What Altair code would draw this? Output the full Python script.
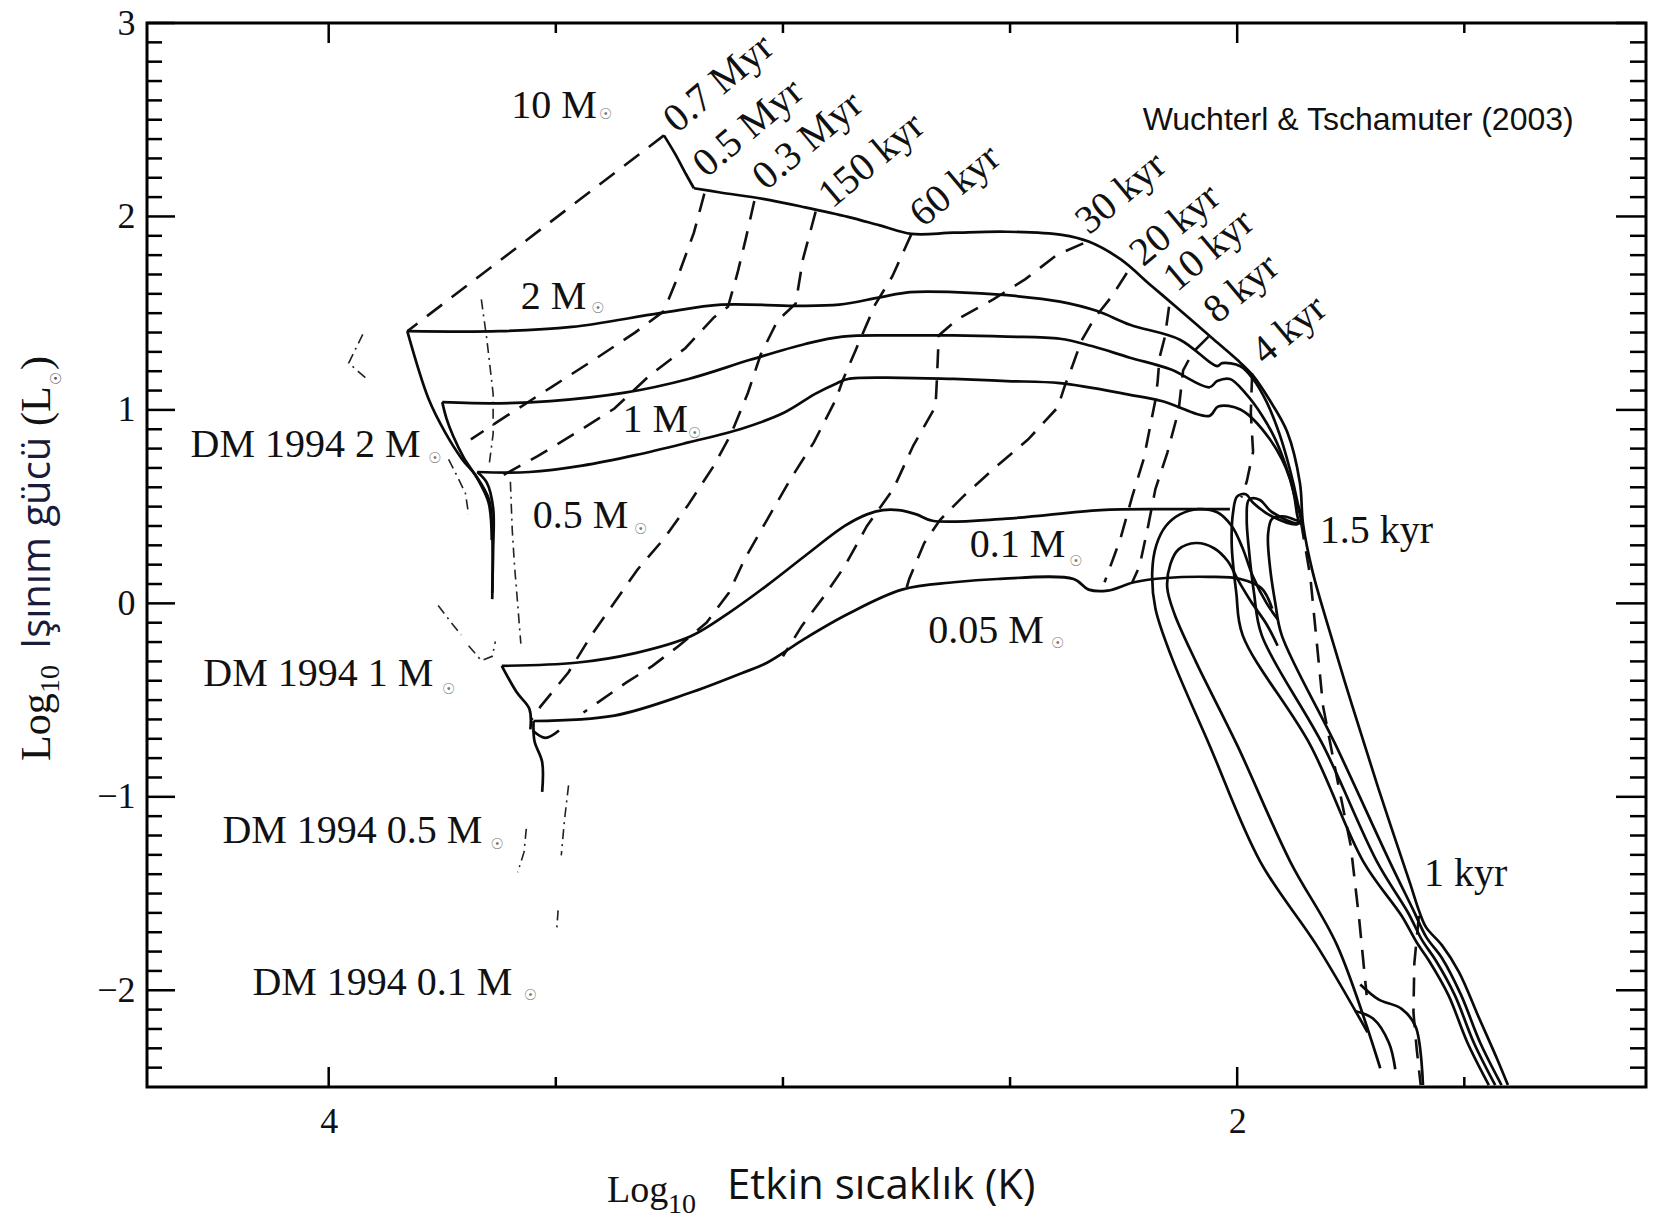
import altair as alt
import pandas as pd

W, H = 1499, 1064

# ---------------- data: (log10 Teff, log10 L) ----------------
TRACK_10M = [
    (1.404, -2.490), (1.428, -2.354), (1.467, -2.146), (1.512, -1.905), (1.549, -1.768), (1.584, -1.675),
    (1.600, -1.587), (1.619, -1.450), (1.689, -0.958), (1.748, -0.520), (1.801, -0.109), (1.834, 0.164),
    (1.855, 0.411), (1.862, 0.624), (1.890, 0.887), (1.930, 1.056), (1.965, 1.177), (2.000, 1.259),
    (2.051, 1.363), (2.129, 1.522), (2.189, 1.642), (2.257, 1.779), (2.327, 1.870), (2.386, 1.905),
    (2.507, 1.921), (2.624, 1.916), (2.717, 1.910), (2.787, 1.954), (2.857, 1.998), (2.951, 2.047),
    (3.044, 2.091), (3.138, 2.124), (3.196, 2.146)]
TIP_10M = [(3.196, 2.146), (3.213, 2.217), (3.238, 2.326), (3.262, 2.419)]

TRACK_2M = [
    (1.418, -2.490), (1.465, -2.271), (1.507, -2.025), (1.549, -1.834), (1.584, -1.724), (1.612, -1.587),
    (1.664, -1.336), (1.783, -0.733), (1.902, -0.164), (1.916, 0.000), (1.928, 0.192), (1.932, 0.356),
    (1.923, 0.438), (1.895, 0.449), (1.860, 0.427), (1.867, 0.520), (1.883, 0.684), (1.907, 0.876),
    (1.935, 1.040), (1.965, 1.160), (1.993, 1.226), (2.033, 1.242), (2.044, 1.226), (2.126, 1.363),
    (2.236, 1.440), (2.308, 1.511), (2.390, 1.560), (2.507, 1.593), (2.624, 1.609), (2.720, 1.609),
    (2.787, 1.582), (2.876, 1.544), (2.974, 1.538), (3.136, 1.544), (3.271, 1.500), (3.465, 1.429),
    (3.624, 1.407), (3.827, 1.407)]
DESC_2M = [(3.827, 1.407), (3.780, 1.056), (3.743, 0.881), (3.706, 0.744), (3.675, 0.657),
           (3.647, 0.536), (3.640, 0.367), (3.640, 0.022)]

TRACK_1M = [
    (1.432, -2.490), (1.479, -2.271), (1.521, -2.025), (1.563, -1.845), (1.593, -1.741), (1.624, -1.598),
    (1.692, -1.336), (1.811, -0.733), (1.946, -0.164), (1.963, 0.055), (1.974, 0.274), (1.979, 0.438),
    (1.974, 0.536), (1.951, 0.536), (1.923, 0.471), (1.862, 0.416), (1.874, 0.558), (1.893, 0.712),
    (1.916, 0.848), (1.946, 0.974), (1.981, 1.084), (2.016, 1.160), (2.044, 1.149), (2.061, 1.117),
    (2.147, 1.210), (2.236, 1.270), (2.320, 1.330), (2.390, 1.368), (2.507, 1.379), (2.624, 1.385),
    (2.741, 1.385), (2.869, 1.379), (2.951, 1.341), (3.072, 1.259), (3.208, 1.160), (3.348, 1.089),
    (3.512, 1.045), (3.624, 1.034), (3.750, 1.040)]
DESC_1M = [(3.750, 1.040), (3.741, 0.958), (3.726, 0.865), (3.703, 0.755), (3.673, 0.646),
           (3.648, 0.520), (3.641, 0.328)]

TRACK_05M = [
    (1.446, -2.490), (1.493, -2.271), (1.535, -2.025), (1.577, -1.850), (1.605, -1.752), (1.638, -1.615),
    (1.722, -1.336), (1.839, -0.733), (1.988, -0.164), (2.002, 0.055), (2.012, 0.301), (2.009, 0.471),
    (2.000, 0.553), (1.981, 0.564), (1.965, 0.520), (1.923, 0.449), (1.867, 0.411), (1.869, 0.471),
    (1.883, 0.640), (1.928, 0.848), (1.993, 1.002), (2.042, 1.018), (2.061, 0.969), (2.164, 1.045),
    (2.236, 1.078), (2.390, 1.138), (2.507, 1.149), (2.624, 1.160), (2.741, 1.166), (2.857, 1.160),
    (2.881, 1.138), (2.928, 1.084), (2.998, 0.985), (3.091, 0.903), (3.208, 0.832), (3.325, 0.766),
    (3.442, 0.712), (3.558, 0.679), (3.673, 0.679)]
DESC_05M = [(3.673, 0.679), (3.652, 0.624), (3.638, 0.493), (3.638, 0.274), (3.640, 0.055)]

TRACK_01M = [
    (2.016, 0.487), (2.157, 0.487), (2.301, 0.482), (2.507, 0.438), (2.671, 0.427), (2.706, 0.460),
    (2.745, 0.482), (2.780, 0.482), (2.815, 0.460), (2.864, 0.400), (2.951, 0.246), (3.035, 0.093),
    (3.119, -0.049), (3.203, -0.170), (3.325, -0.257), (3.456, -0.307), (3.619, -0.323)]
DESC_01M = [(3.619, -0.323), (3.586, -0.460), (3.558, -0.547), (3.556, -0.651)]

TRACK_005M = [
    (1.923, -0.027), (1.946, 0.077), (1.993, 0.126), (2.063, 0.137), (2.157, 0.131), (2.227, 0.109),
    (2.285, 0.066), (2.327, 0.071), (2.360, 0.126), (2.528, 0.126), (2.624, 0.109), (2.738, 0.071),
    (2.857, -0.055), (2.951, -0.181), (3.035, -0.307), (3.091, -0.361), (3.208, -0.465), (3.371, -0.580),
    (3.549, -0.608)]
DESC_005M = [(3.549, -0.608), (3.547, -0.712), (3.530, -0.821), (3.530, -0.974)]

LOOP_OUTER = [
    (1.713, -2.217), (1.825, -1.768), (1.949, -1.336), (2.061, -0.733), (2.145, -0.274), (2.180, -0.027),
    (2.187, 0.164), (2.178, 0.301), (2.157, 0.400), (2.126, 0.460), (2.086, 0.487), (2.044, 0.471),
    (2.012, 0.400), (1.988, 0.285), (1.965, 0.137), (1.935, 0.000), (1.911, -0.082)]

LOOP_INNER = [
    (1.685, -2.403), (1.780, -1.768), (1.883, -1.336), (2.000, -0.733), (2.091, -0.301), (2.138, -0.055),
    (2.154, 0.082), (2.147, 0.203), (2.129, 0.279), (2.091, 0.312), (2.051, 0.285), (2.021, 0.219),
    (1.998, 0.120), (1.970, 0.011), (1.935, -0.109), (1.911, -0.219)]

KNOT_A = [(1.729, -1.970), (1.689, -2.047), (1.638, -2.096), (1.607, -2.189), (1.591, -2.490)]
KNOT_B = [(1.741, -2.107), (1.701, -2.146), (1.666, -2.271), (1.652, -2.408)]
KNOT_C = [(3.551, -0.657), (3.523, -0.695), (3.493, -0.657)]

# isochrones (dashed)
ISO_07MYR = [(3.262, 2.419), (3.827, 1.407)]
ISO_05MYR = [(3.173, 2.118), (3.196, 1.916), (3.231, 1.691), (3.262, 1.511), (3.325, 1.401), (3.416, 1.259),
             (3.507, 1.122), (3.605, 0.974), (3.687, 0.848)]
ISO_03MYR = [(3.063, 2.080), (3.082, 1.883), (3.100, 1.708), (3.121, 1.533), (3.152, 1.478), (3.215, 1.319),
             (3.294, 1.177), (3.371, 1.007), (3.456, 0.881), (3.540, 0.761), (3.629, 0.646)]
ISO_150KYR = [(2.928, 2.025), (2.956, 1.779), (2.972, 1.549), (3.012, 1.461), (3.049, 1.286), (3.077, 1.089),
              (3.114, 0.876), (3.152, 0.712), (3.210, 0.504), (3.262, 0.334), (3.320, 0.175), (3.371, 0.005),
              (3.423, -0.170), (3.472, -0.356), (3.533, -0.531), (3.554, -0.602)]
ISO_60KYR = [(2.717, 1.910), (2.759, 1.691), (2.797, 1.544), (2.839, 1.314), (2.869, 1.149), (2.883, 1.056),
             (2.932, 0.832), (2.984, 0.640), (3.035, 0.432), (3.084, 0.230), (3.119, 0.055), (3.168, -0.099),
             (3.229, -0.219), (3.287, -0.323), (3.346, -0.411), (3.439, -0.564)]
ISO_30KYR = [(2.339, 1.861), (2.397, 1.801), (2.467, 1.675), (2.537, 1.571), (2.617, 1.467), (2.657, 1.385),
             (2.661, 1.160), (2.664, 1.018), (2.713, 0.816), (2.757, 0.591), (2.815, 0.400), (2.864, 0.192),
             (2.909, 0.038), (2.958, -0.115), (3.000, -0.274)]
ISO_20KYR = [(2.243, 1.708), (2.276, 1.587), (2.313, 1.478), (2.343, 1.357), (2.362, 1.232), (2.379, 1.128),
             (2.395, 1.013), (2.460, 0.848), (2.528, 0.712), (2.603, 0.553), (2.654, 0.432), (2.689, 0.312),
             (2.722, 0.126), (2.729, 0.071)]
ISO_10KYR = [(2.150, 1.533), (2.159, 1.379), (2.171, 1.270), (2.175, 1.149), (2.180, 1.051), (2.206, 0.744),
             (2.231, 0.553), (2.257, 0.334), (2.292, 0.109)]
ISO_8KYR = [(2.063, 1.379), (2.098, 1.297), (2.119, 1.204), (2.129, 0.996), (2.154, 0.777), (2.180, 0.591),
            (2.196, 0.400), (2.215, 0.192), (2.231, 0.109)]
ISO_4KYR = [(1.967, 1.188), (1.970, 0.985), (1.965, 0.783), (1.979, 0.629), (1.991, 0.547)]
ISO_15KYR = [(1.860, 0.427), (1.839, 0.137), (1.811, -0.531), (1.778, -0.930), (1.750, -1.253),
             (1.731, -1.642), (1.715, -2.025)]
ISO_1KYR = [(1.600, -1.615), (1.610, -1.861), (1.612, -2.113), (1.605, -2.299), (1.596, -2.490)]

# D'Antona & Mazzitelli 1994 tracks (dash-dot)
DM_2M_A = [(3.925, 1.390), (3.956, 1.242), (3.916, 1.160)]
DM_2M_B = [(3.736, 0.744), (3.717, 0.657), (3.699, 0.569), (3.692, 0.460)]
DM_1M_A = [(3.664, 1.571), (3.652, 1.368), (3.638, 1.084), (3.638, 0.876), (3.647, 0.712)]
DM_1M_B = [(3.759, -0.011), (3.727, -0.109), (3.708, -0.164)]
DM_1M_C = [(3.692, -0.219), (3.664, -0.296), (3.640, -0.274), (3.633, -0.197)]
DM_05M_A = [(3.600, 0.629), (3.596, 0.383), (3.591, 0.197), (3.586, 0.055), (3.577, -0.208)]
DM_05M_B = [(3.565, -1.166), (3.570, -1.286), (3.584, -1.390)]
DM_01M_A = [(3.472, -0.941), (3.481, -1.122), (3.488, -1.303)]
DM_01M_B = [(3.495, -1.587), (3.498, -1.686)]

# labels
MASS_TEXT = ["10 M", "2 M", "1 M", "0.5 M", "0.1 M", "0.05 M",
             "DM 1994 2 M", "DM 1994 1 M", "DM 1994 0.5 M", "DM 1994 0.1 M", "1.5 kyr", "1 kyr"]
MASS_T = [3.598, 3.577, 3.353, 3.551, 2.589, 2.680, 4.304, 4.276, 4.234, 4.168, 1.818, 1.589]
MASS_L = [2.572, 1.582, 0.947, 0.454, 0.301, -0.142, 0.821, -0.367, -1.177, -1.960, 0.372, -1.401]

SUN_T = [3.390, 3.407, 3.194, 3.313, 2.355, 2.395, 3.766, 3.736, 3.629, 3.556]
SUN_L = [2.529, 1.527, 0.881, 0.383, 0.219, -0.203, 0.750, -0.443, -1.242, -2.025]

AGE_TEXT = ["0.7 Myr", "0.5 Myr", "0.3 Myr", "150 kyr", "60 kyr", "30 kyr", "20 kyr", "10 kyr", "8 kyr", "4 kyr"]
AGE_T = [3.250, 3.185, 3.054, 2.909, 2.708, 2.343, 2.224, 2.150, 2.061, 1.956]
AGE_L = [2.474, 2.244, 2.178, 2.085, 1.987, 1.949, 1.784, 1.653, 1.489, 1.275]

SOURCE_TEXT = ["Wuchterl & Tschamuter (2003)"]
SOURCE_T = [2.208]
SOURCE_L = [2.501]

X_LABELS = [4, 2]
Y_LABELS = [-2, -1, 0, 1, 2, 3]
X_MAJOR = [4.0, 2.0]
X_MINOR = [3.5, 3.0, 2.5, 1.5]
Y_MAJOR = [-2, -1, 0, 1, 2, 3]
Y_MINOR = [-2.4, -2.3, -2.2, -2.1, -1.9, -1.8, -1.7, -1.6, -1.5, -1.4, -1.3, -1.2, -1.1,
           -0.9, -0.8, -0.7, -0.6, -0.5, -0.4, -0.3, -0.2, -0.1,
           0.1, 0.2, 0.3, 0.4, 0.5, 0.6, 0.7, 0.8, 0.9,
           1.1, 1.2, 1.3, 1.4, 1.5, 1.6, 1.7, 1.8, 1.9,
           2.1, 2.2, 2.3, 2.4, 2.5, 2.6, 2.7, 2.8, 2.9]

SOLID = [("10M", TRACK_10M), ("10Mtip", TIP_10M), ("2M", TRACK_2M), ("2Md", DESC_2M),
         ("1M", TRACK_1M), ("1Md", DESC_1M), ("05M", TRACK_05M), ("05Md", DESC_05M),
         ("01M", TRACK_01M), ("01Md", DESC_01M), ("005M", TRACK_005M), ("005Md", DESC_005M),
         ("loopA", LOOP_OUTER), ("loopB", LOOP_INNER),
         ("knA", KNOT_A), ("knB", KNOT_B), ("knC", KNOT_C)]
DASHED = [("i07", ISO_07MYR), ("i05", ISO_05MYR), ("i03", ISO_03MYR), ("i150", ISO_150KYR),
          ("i60", ISO_60KYR), ("i30", ISO_30KYR), ("i20", ISO_20KYR), ("i10", ISO_10KYR),
          ("i8", ISO_8KYR), ("i4", ISO_4KYR), ("i15", ISO_15KYR), ("i1", ISO_1KYR)]
DASHDOT = [("d2a", DM_2M_A), ("d2b", DM_2M_B), ("d1a", DM_1M_A), ("d1b", DM_1M_B), ("d1c", DM_1M_C),
           ("d05a", DM_05M_A), ("d05b", DM_05M_B), ("d01a", DM_01M_A), ("d01b", DM_01M_B)]


def frame(segments):
    rows = []
    for name, pts in segments:
        for i, (t, l) in enumerate(pts):
            rows.append({"seg": name, "i": i, "T": t, "L": l})
    return pd.DataFrame(rows)


xs = alt.Scale(domain=[1.1, 4.4], reverse=True, nice=False, zero=False)
ys = alt.Scale(domain=[-2.5, 3.0], nice=False, zero=False)

x_axis = alt.Axis(values=X_LABELS, title=None, grid=False, ticks=False, tickSize=0, domain=False,
                  labelFont="Liberation Serif", labelFontSize=36, labelColor="#111111",
                  labelPadding=17, labelFlush=False, labelOverlap=False, format="d")
y_axis = alt.Axis(values=Y_LABELS, title=None, grid=False, ticks=False, tickSize=0, domain=False,
                  labelFont="Liberation Serif", labelFontSize=36, labelColor="#111111",
                  labelPadding=12, labelFlush=False, labelOverlap=False, format="d")

X = alt.X("T:Q", scale=xs, axis=x_axis)
Y = alt.Y("L:Q", scale=ys, axis=y_axis)

layers = []

# inward ticks
ymaj = pd.DataFrame({"L": Y_MAJOR})
ymin = pd.DataFrame({"L": Y_MINOR})
xmaj = pd.DataFrame({"T": X_MAJOR})
xmin = pd.DataFrame({"T": X_MINOR})
tick = dict(color="black", strokeWidth=2.5)
layers += [
    alt.Chart(ymaj).mark_rule(**tick).encode(y=Y, x=alt.value(0), x2=alt.value(28)),
    alt.Chart(ymin).mark_rule(**tick).encode(y=Y, x=alt.value(0), x2=alt.value(15)),
    alt.Chart(ymaj).mark_rule(**tick).encode(y=Y, x=alt.value(W), x2=alt.value(W - 30)),
    alt.Chart(ymin).mark_rule(**tick).encode(y=Y, x=alt.value(W), x2=alt.value(W - 16)),
    alt.Chart(xmaj).mark_rule(**tick).encode(x=X, y=alt.value(H), y2=alt.value(H - 20)),
    alt.Chart(xmin).mark_rule(**tick).encode(x=X, y=alt.value(H), y2=alt.value(H - 10)),
    alt.Chart(xmaj).mark_rule(**tick).encode(x=X, y=alt.value(0), y2=alt.value(20)),
    alt.Chart(xmin).mark_rule(**tick).encode(x=X, y=alt.value(0), y2=alt.value(10)),
]

layers.append(
    alt.Chart(frame(DASHDOT)).mark_line(color="#222222", strokeWidth=1.6, strokeDash=[10, 5, 2, 5], clip=True)
    .encode(x=X, y=Y, detail="seg:N", order="i:Q"))
layers.append(
    alt.Chart(frame(DASHED)).mark_line(color="#111111", strokeWidth=2.6, strokeDash=[19, 12], clip=True)
    .encode(x=X, y=Y, detail="seg:N", order="i:Q"))
layers.append(
    alt.Chart(frame(SOLID)).mark_line(color="#0a0a0a", strokeWidth=2.7, clip=True, strokeJoin="round",
                                      interpolate="catmull-rom")
    .encode(x=X, y=Y, detail="seg:N", order="i:Q"))

# labels in data coordinates
mass_df = pd.DataFrame({"T": MASS_T, "L": MASS_L, "txt": MASS_TEXT})
layers.append(
    alt.Chart(mass_df).mark_text(font="Liberation Serif", fontSize=40, align="left", baseline="middle",
                                 color="#111111")
    .encode(x=X, y=Y, text="txt:N"))
sun_df = pd.DataFrame({"T": SUN_T, "L": SUN_L, "txt": ["\u2609"] * len(SUN_T)})
layers.append(
    alt.Chart(sun_df).mark_text(font="DejaVu Sans", fontSize=15, align="center", baseline="middle",
                                color="#777777")
    .encode(x=X, y=Y, text="txt:N"))
age_df = pd.DataFrame({"T": AGE_T, "L": AGE_L, "txt": AGE_TEXT})
layers.append(
    alt.Chart(age_df).mark_text(font="Liberation Serif", fontSize=40, align="left", baseline="middle",
                                angle=320, color="#111111")
    .encode(x=X, y=Y, text="txt:N"))
src_df = pd.DataFrame({"T": SOURCE_T, "L": SOURCE_L, "txt": SOURCE_TEXT})
layers.append(
    alt.Chart(src_df).mark_text(font="Liberation Sans", fontSize=32, align="left", baseline="middle",
                                color="#111111")
    .encode(x=X, y=Y, text="txt:N"))


def title_piece(text, x, y, font, size, angle=0, baseline="alphabetic", color="#111111"):
    kw = dict(font=font, fontSize=size, align="left", baseline=baseline, color=color)
    if angle:
        kw["angle"] = angle
    return alt.Chart(pd.DataFrame({"t": [text]})).mark_text(**kw).encode(
        x=alt.value(x), y=alt.value(y), text="t:N")


# x-axis title: "Log10 Etkin sıcaklık (K)"
layers += [
    title_piece("Log", 460, 1179, "Liberation Serif", 38),
    title_piece("10", 521, 1190, "Liberation Serif", 28),
    title_piece("Etkin sıcaklık (K)", 580, 1176, "Open Sans", 42),
]
# y-axis title: "Log10 Işınım gücü (L☉)" rotated
layers += [
    title_piece("Log", -97, 738, "Liberation Serif", 42, angle=270),
    title_piece("10", -88, 670, "Liberation Serif", 28, angle=270),
    title_piece("Işınım gücü", -97, 626, "Open Sans", 40, angle=270, color="#1a1a3a"),
    title_piece("(L", -97, 403, "Liberation Serif", 42, angle=270),
    title_piece("\u2609", -86, 362, "DejaVu Sans", 15, angle=270, color="#555555"),
    title_piece(")", -97, 347, "Liberation Serif", 42, angle=270),
]

chart = alt.layer(*layers).properties(
    width=W, height=H,
    padding={"left": 147, "top": 23, "right": 16, "bottom": 131},
    autosize=alt.AutoSizeParams(type="none"),
    background="white",
).configure_view(stroke="black", strokeWidth=3)

chart.save("out.html", embed_options={"renderer": "svg", "actions": False})
